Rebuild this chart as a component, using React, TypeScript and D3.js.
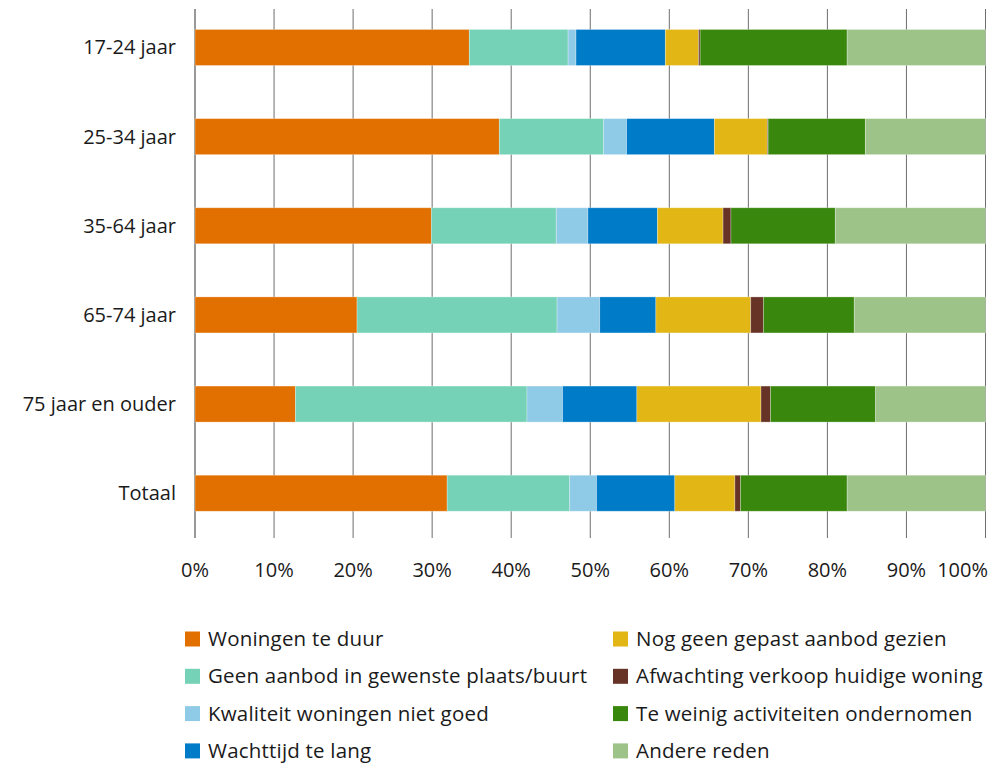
import React from "react";
import * as d3 from "d3";

const categories = ["17-24 jaar", "25-34 jaar", "35-64 jaar", "65-74 jaar", "75 jaar en ouder", "Totaal"];
const seriesNames = [
  "Woningen te duur",
  "Geen aanbod in gewenste plaats/buurt",
  "Kwaliteit woningen niet goed",
  "Wachttijd te lang",
  "Nog geen gepast aanbod gezien",
  "Afwachting verkoop huidige woning",
  "Te weinig activiteiten ondernomen",
  "Andere reden",
];
const colors = ["#E17000", "#76D2B6", "#8FCAE7", "#007BC7", "#E1B615", "#673327", "#39870C", "#9DC388"];

const woningenTeDuur = [34.7, 38.5, 29.9, 20.5, 12.7, 31.9];
const geenAanbod = [12.5, 13.2, 15.8, 25.3, 29.3, 15.5];
const kwaliteit = [1.0, 2.9, 4.0, 5.4, 4.5, 3.4];
const wachttijd = [11.3, 11.1, 8.8, 7.1, 9.4, 9.9];
const nogGeenGepast = [4.2, 6.7, 8.3, 12.0, 15.7, 7.6];
const afwachting = [0.2, 0.1, 1.0, 1.6, 1.2, 0.7];
const teWeinig = [18.6, 12.3, 13.2, 11.5, 13.3, 13.5];
const andere = [17.5, 15.2, 19.0, 16.6, 13.9, 17.5];

const tickValues = [0, 10, 20, 30, 40, 50, 60, 70, 80, 90, 100];
const tickLabels = ["0%", "10%", "20%", "30%", "40%", "50%", "60%", "70%", "80%", "90%", "100%"];

const seriesData = [woningenTeDuur, geenAanbod, kwaliteit, wachttijd, nogGeenGepast, afwachting, teWeinig, andere];

const FONT = "'Open Sans', sans-serif";

export default function App() {
  const x = d3.scaleLinear().domain([0, 100]).range([195, 985.5]);
  const y = d3.scaleBand<string>().domain(categories).range([2.9, 537.8]).paddingInner(0.596).paddingOuter(0.298);

  const rows = categories.map((c, i) => {
    const o: Record<string, any> = { cat: c };
    seriesNames.forEach((s, j) => (o[s] = seriesData[j][i]));
    return o;
  });
  const stacked = d3.stack<any>().keys(seriesNames)(rows);

  return (
    <svg width={991} height={764} style={{ position: "absolute", left: 0, top: 0, background: "#fff" }}>
      <rect x={0} y={0} width={991} height={764} fill="#fff" />
      {/* gridlines */}
      {tickValues.map((t, i) => (
        <line
          key={"g" + i}
          x1={x(t)}
          x2={x(t)}
          y1={9}
          y2={538}
          stroke={t === 0 ? "#333" : "#6e6e6e"}
          strokeWidth={1}
        />
      ))}
      {/* bars */}
      {stacked.map((layer, si) => (
        <g key={"s" + si} fill={colors[si]}>
          {layer.map((d, ci) => (
            <rect
              key={ci}
              x={x(d[0])}
              y={y(categories[ci])}
              width={Math.max(0, x(d[1]) - x(d[0]))}
              height={y.bandwidth()}
              stroke="#ffffff"
              strokeOpacity={0.35}
              strokeWidth={0.8}
            />
          ))}
        </g>
      ))}
      {/* category labels */}
      {categories.map((c) => (
        <text
          key={c}
          x={176}
          y={(y(c) as number) + y.bandwidth() / 2}
          dy="0.35em"
          textAnchor="end"
          fontFamily={FONT}
          fontSize={20}
          fill="#1a1a1a"
        >
          {c}
        </text>
      ))}
      {/* tick labels */}
      {tickValues.map((t, i) => (
        <text
          key={"t" + i}
          x={t === 100 ? 988 : x(t)}
          y={570}
          dy="0.35em"
          textAnchor={t === 100 ? "end" : "middle"}
          fontFamily={FONT}
          fontSize={20}
          fill="#1a1a1a"
        >
          {tickLabels[i]}
        </text>
      ))}
      {/* legend */}
      {seriesNames.map((s, i) => {
        const col = Math.floor(i / 4);
        const row = i % 4;
        const sx = col === 0 ? 185 : 613;
        const cy = 639 + row * 37.3;
        return (
          <g key={"l" + i}>
            <rect x={sx} y={cy - 7.5} width={15} height={15} fill={colors[i]} />
            <text
              x={sx + 23}
              y={cy}
              dy="0.35em"
              fontFamily={FONT}
              fontSize={20.5}
              letterSpacing={0.2}
              fill="#1a1a1a"
            >
              {s}
            </text>
          </g>
        );
      })}
    </svg>
  );
}
